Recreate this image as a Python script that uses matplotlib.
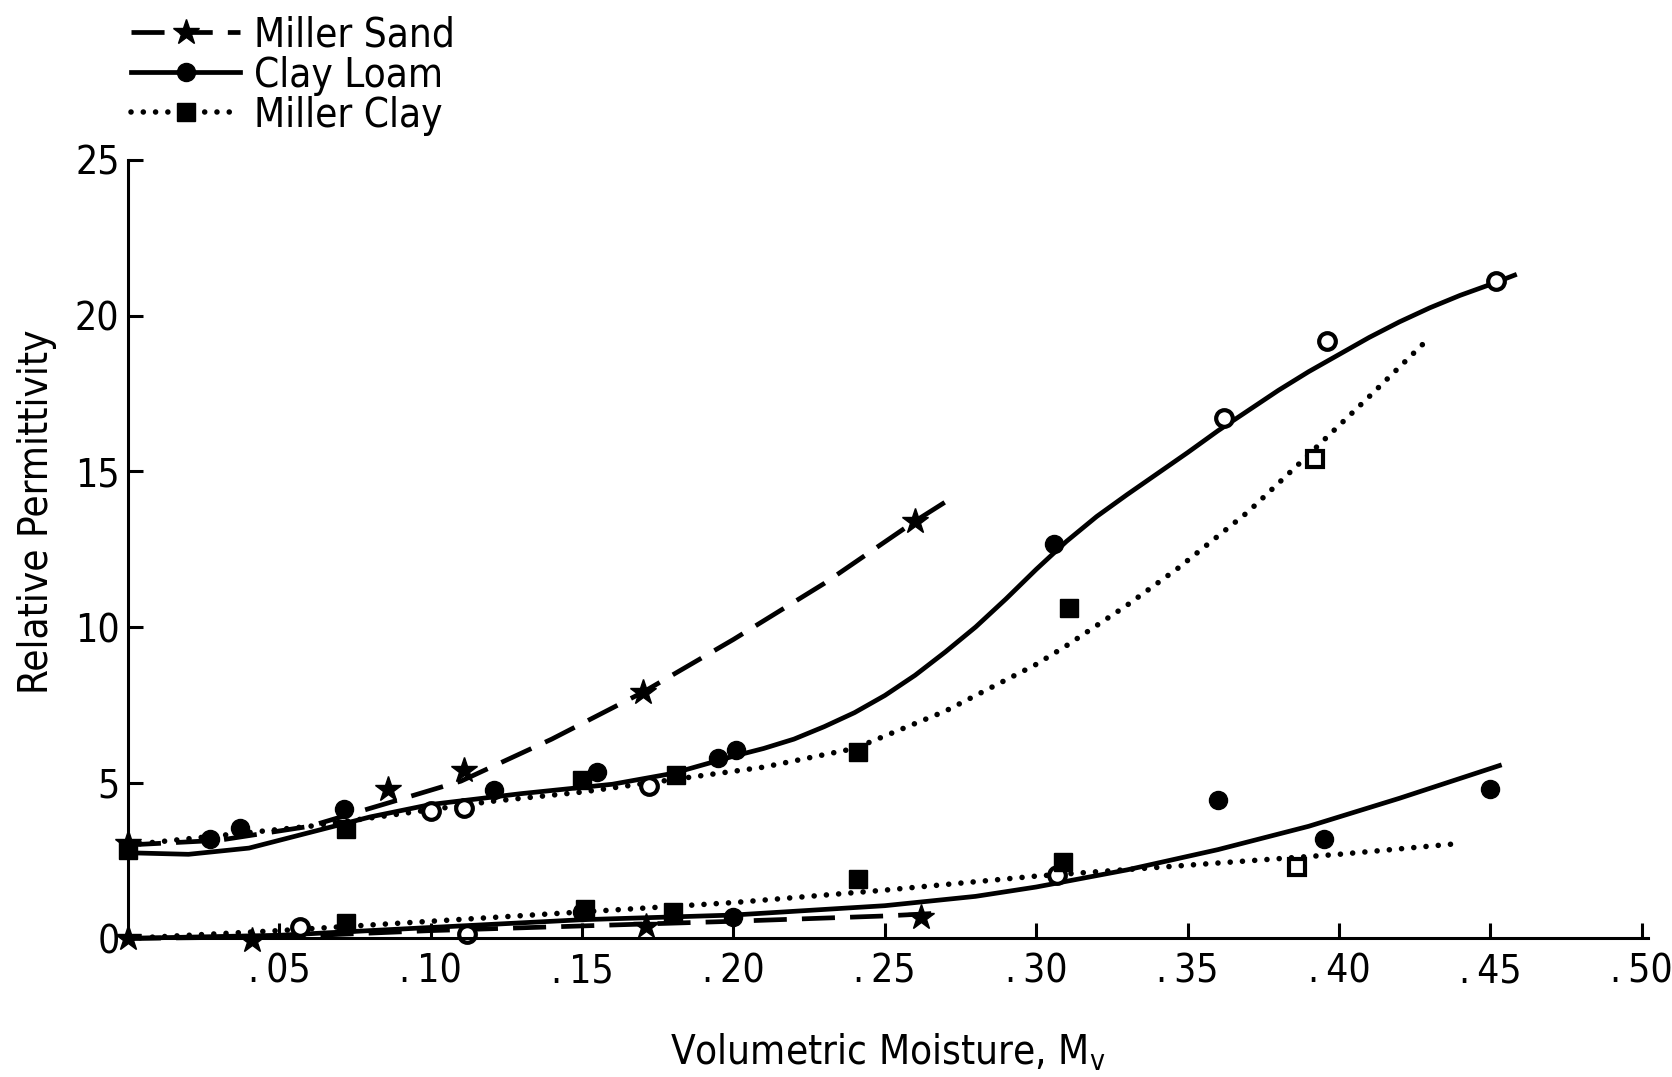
import matplotlib
matplotlib.use("Agg")
import matplotlib.pyplot as plt
from matplotlib.lines import Line2D

plt.rcParams['font.family'] = ['DejaVu Sans']
plt.rcParams['font.stretch'] = 'condensed'

# ---- fitted curves ----
# upper group
sand_hi_x = [0.0, 0.03, 0.06, 0.086, 0.11, 0.14, 0.17, 0.20, 0.23, 0.26, 0.273]
sand_hi_y = [3.0, 3.15, 3.6, 4.35, 5.05, 6.4, 7.9, 9.6, 11.4, 13.4, 14.2]

loam_hi_x = [0.0, 0.02, 0.04, 0.06, 0.08, 0.10, 0.13, 0.16, 0.18, 0.20, 0.21, 0.22,
             0.23, 0.24, 0.25, 0.26, 0.27, 0.28, 0.29, 0.30, 0.31, 0.32, 0.33,
             0.35, 0.36, 0.37, 0.38, 0.39, 0.40, 0.41, 0.42, 0.43, 0.44, 0.45, 0.458]
loam_hi_y = [2.75, 2.7, 2.9, 3.4, 3.9, 4.3, 4.65, 4.95, 5.3, 5.85, 6.1, 6.4,
             6.8, 7.25, 7.8, 8.45, 9.2, 10.0, 10.9, 11.85, 12.75, 13.55, 14.25,
             15.6, 16.3, 16.95, 17.6, 18.2, 18.75, 19.3, 19.8, 20.25, 20.65, 21.0, 21.3]

clay_hi_x = [0.0, 0.03, 0.06, 0.09, 0.12, 0.15, 0.18, 0.21, 0.24, 0.27, 0.30, 0.31,
             0.33, 0.347, 0.37, 0.388, 0.41, 0.43]
clay_hi_y = [3.0, 3.3, 3.6, 4.0, 4.4, 4.7, 5.1, 5.5, 6.1, 7.3, 8.8, 9.4,
             10.7, 11.9, 13.7, 15.35, 17.4, 19.3]

# lower group
sand_lo_x = [0.0, 0.05, 0.10, 0.15, 0.20, 0.25, 0.27]
sand_lo_y = [0.0, 0.05, 0.25, 0.4, 0.55, 0.72, 0.82]

loam_lo_x = [0.0, 0.05, 0.10, 0.15, 0.20, 0.25, 0.28, 0.30, 0.33, 0.36, 0.39, 0.42, 0.453]
loam_lo_y = [0.0, 0.1, 0.35, 0.6, 0.75, 1.05, 1.35, 1.65, 2.2, 2.85, 3.6, 4.5, 5.55]

clay_lo_x = [0.0, 0.05, 0.10, 0.15, 0.20, 0.25, 0.30, 0.35, 0.40, 0.44]
clay_lo_y = [0.0, 0.25, 0.55, 0.85, 1.15, 1.55, 2.0, 2.35, 2.7, 3.05]

# ---- measured points ----
sand_pts_x = [0.0, 0.086, 0.111, 0.170, 0.260, 0.0, 0.041, 0.171, 0.262]
sand_pts_y = [3.05, 4.8, 5.4, 7.9, 13.4, 0.0, -0.05, 0.4, 0.7]

loam_fill_x = [0.027, 0.037, 0.0715, 0.121, 0.155, 0.195, 0.201, 0.306,
               0.150, 0.200, 0.360, 0.395, 0.450]
loam_fill_y = [3.2, 3.55, 4.15, 4.75, 5.35, 5.8, 6.05, 12.65,
               0.85, 0.7, 4.45, 3.2, 4.8]
loam_open_x = [0.100, 0.111, 0.172, 0.362, 0.396, 0.452, 0.057, 0.112, 0.307]
loam_open_y = [4.1, 4.2, 4.9, 16.7, 19.2, 21.1, 0.35, 0.15, 2.05]

clay_fill_x = [0.0, 0.072, 0.150, 0.181, 0.241, 0.311,
               0.072, 0.151, 0.180, 0.241, 0.309]
clay_fill_y = [2.85, 3.5, 5.1, 5.25, 6.0, 10.6,
               0.5, 0.95, 0.85, 1.9, 2.45]
clay_open_x = [0.392, 0.386]
clay_open_y = [15.4, 2.3]

xticks = [0.05, 0.10, 0.15, 0.20, 0.25, 0.30, 0.35, 0.40, 0.45, 0.50]
xtick_labels = ['.\u200905', '.\u200910', '.\u200915', '.\u200920', '.\u200925',
                '.\u200930', '.\u200935', '.\u200940', '.\u200945', '.\u200950']
yticks = [0, 5, 10, 15, 20, 25]

fig = plt.figure(figsize=(16.72, 10.77), dpi=100)
ax = fig.add_axes([0.0765, 0.1287, 0.909, 0.7228])

lw = 3.4
dash = (0, (7, 3.2))
dot = (0, (0.01, 2.2))

ax.plot(sand_hi_x, sand_hi_y, color='k', lw=lw, linestyle=dash, clip_on=False)
ax.plot(sand_lo_x, sand_lo_y, color='k', lw=lw, linestyle=dash, clip_on=False)
ax.plot(loam_hi_x, loam_hi_y, color='k', lw=lw, clip_on=False)
ax.plot(loam_lo_x, loam_lo_y, color='k', lw=lw, clip_on=False)
ax.plot(clay_hi_x, clay_hi_y, color='k', lw=lw + 0.6, linestyle=dot,
        dash_capstyle='round', clip_on=False)
ax.plot(clay_lo_x, clay_lo_y, color='k', lw=lw + 0.6, linestyle=dot,
        dash_capstyle='round', clip_on=False)

ax.plot(sand_pts_x, sand_pts_y, '*', color='k', ms=19, clip_on=False)
ax.plot(loam_fill_x, loam_fill_y, 'o', color='k', ms=13, clip_on=False)
ax.plot(loam_open_x, loam_open_y, 'o', mfc='white', mec='k', mew=3, ms=12, clip_on=False)
ax.plot(clay_fill_x, clay_fill_y, 's', color='k', ms=13, clip_on=False)
ax.plot(clay_open_x, clay_open_y, 's', mfc='white', mec='k', mew=3, ms=12, clip_on=False)

ax.set_xlim(0, 0.502)
ax.set_ylim(0, 25)
for side in ['top', 'right']:
    ax.spines[side].set_visible(False)
for side in ['left', 'bottom']:
    ax.spines[side].set_linewidth(2.2)

ax.set_xticks(xticks)
ax.set_xticklabels(xtick_labels)
ax.set_yticks(yticks)
ax.tick_params(axis='both', direction='in', length=11, width=2.2, labelsize=28)
ax.tick_params(axis='x', pad=10)
ax.tick_params(axis='y', pad=6)

ax.set_xlabel('Volumetric Moisture, M$_\\mathregular{v}$', fontsize=29, labelpad=30)
fig.text(0.022, 0.525, 'Relative Permittivity', rotation=90, fontsize=29,
         ha='center', va='center')

handles = [
    Line2D([], [], color='k', lw=lw, linestyle=dash, marker='*', ms=19),
    Line2D([], [], color='k', lw=lw, marker='o', ms=13),
    Line2D([], [], color='k', lw=lw + 0.6, linestyle=dot, dash_capstyle='round',
           marker='s', ms=13),
]
fig.legend(handles, ['Miller Sand', 'Clay Loam', 'Miller Clay'],
           loc='upper left', bbox_to_anchor=(0.064, 1.008), frameon=False,
           fontsize=29, handlelength=2.7, handletextpad=0.35,
           labelspacing=0.0, borderpad=0.1, numpoints=1)

fig.savefig('out.png', dpi=100)
